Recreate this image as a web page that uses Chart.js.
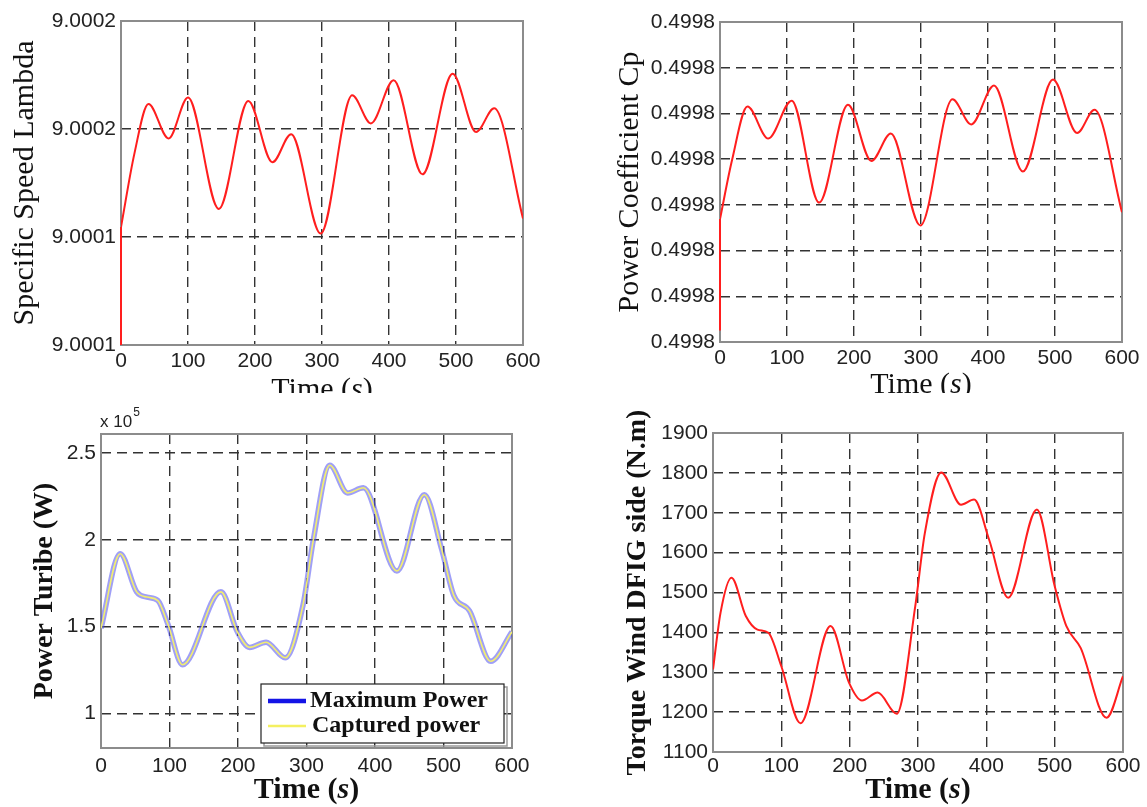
<!DOCTYPE html>
<html>
<head>
<meta charset="utf-8">
<title>Wind turbine simulation</title>
<script src="https://cdn.jsdelivr.net/npm/chart.js@4.4.1/dist/chart.umd.min.js"></script>
<style>
  html, body { margin: 0; padding: 0; background: #fff; }
  #page { position: relative; width: 1147px; height: 807px; overflow: hidden; }
  .panel { position: absolute; left: 0; top: 0; width: 1147px; overflow: hidden; }
  .panel canvas { position: absolute; left: 0; top: 0; }
</style>
</head>
<body>
<div id="page">
  <div class="panel" style="height:393px"><canvas id="lambdaChart" width="1147" height="807"></canvas></div>
  <div class="panel" style="height:393px"><canvas id="cpChart" width="1147" height="807"></canvas></div>
  <div class="panel" style="height:807px"><canvas id="powerChart" width="1147" height="807"></canvas></div>
  <div class="panel" style="height:807px"><canvas id="torqueChart" width="1147" height="807"></canvas></div>
</div>
<script>
// shared time axis
const timeTicks = [0, 100, 200, 300, 400, 500, 600];

// specific speed lambda (the run starts with a jump at t = 0)
const lambdaJump = [9.0001, 9.0001273];
const lambdaTime = [0, 20, 41, 71, 100, 146, 190, 226, 254, 298, 345, 373, 407, 450, 495, 530, 557, 600];
const lambdaValues = [9.0001273, 9.0001443, 9.0001558, 9.0001478, 9.0001573, 9.0001315, 9.0001565, 9.0001423,
    9.0001488, 9.0001258, 9.0001578, 9.0001513, 9.0001613, 9.0001395, 9.0001628, 9.0001493, 9.0001548, 9.0001293];
const lambdaTicks = [9.0001, 9.000125, 9.00015, 9.000175];
const lambdaTickLabels = ['9.0001', '9.0001', '9.0002', '9.0002'];

// power coefficient Cp
const cpJump = [0.49978125, 0.49979345];
const cpTime = [0, 18, 41, 72, 107, 148, 191, 226, 255, 299, 347, 375, 409, 452, 497, 533, 559, 600];
const cpValues = [0.49979345, 0.4997999, 0.49980575, 0.49980225, 0.4998064, 0.49979525, 0.49980595, 0.4997998,
    0.4998028, 0.49979275, 0.49980655, 0.4998038, 0.49980805, 0.49979865, 0.4998087, 0.49980285, 0.4998054, 0.4997942];
const cpTicks = [0.49978, 0.499785, 0.49979, 0.499795, 0.4998, 0.499805, 0.49981, 0.499815];
const cpTickLabels = ['0.4998', '0.4998', '0.4998', '0.4998', '0.4998', '0.4998', '0.4998', '0.4998'];

// turbine power (W)
const powerTime = [0, 28, 52, 67, 83, 98, 119, 175, 199, 217, 241, 269, 295, 310, 334, 360, 383, 432, 472, 497, 515, 538, 569, 600];
const maxPower = [149000, 192000, 170000, 167000, 165000, 151000, 128000, 170000, 147000, 138000, 141000, 132000,
    162500, 200000, 243000, 227000, 230000, 182000, 226000, 195000, 168000, 159000, 130000, 147000];
// captured power lies on top of the maximum power curve
const capturedPower = maxPower.slice();
const powerTicks = [100000, 150000, 200000, 250000];
const powerTickLabels = ['1', '1.5', '2', '2.5'];

// torque wind DFIG side (N.m)
const torqueTime = [0, 11, 27, 48, 65, 81, 100, 128, 172, 199, 218, 241, 269, 296, 310, 334, 363, 382, 404, 432, 474, 500, 517, 538, 576, 600];
const torqueValues = [1307, 1449, 1537, 1441, 1407, 1399, 1315, 1172, 1416, 1274, 1229, 1249, 1196, 1466, 1649, 1801,
    1720, 1733, 1633, 1487, 1708, 1516, 1416, 1361, 1186, 1290];
const torqueTicks = [1100, 1200, 1300, 1400, 1500, 1600, 1700, 1800, 1900];
const torqueTickLabels = ['1100', '1200', '1300', '1400', '1500', '1600', '1700', '1800', '1900'];

const SANS = '"Liberation Sans", Arial, Helvetica, sans-serif';
const SERIF = '"Liberation Serif", "Times New Roman", serif';
const GRID = '#333';
const W = 1147, H = 807, X_AXIS_H = 40;

function points(xs, ys) {
    return xs.map((x, i) => ({ x: x, y: ys[i] }));
}

function drawTimeTitle(ctx, cx, cy, weight, size) {
    const upright = weight + ' ' + size + 'px ' + SERIF;
    const italic = 'italic ' + upright;
    const parts = [['Time (', upright], ['s', italic], [')', upright]];
    let total = 0;
    parts.forEach(p => { ctx.font = p[1]; total += ctx.measureText(p[0]).width; });
    let x = cx - total / 2;
    ctx.fillStyle = '#111';
    ctx.textBaseline = 'middle';
    ctx.textAlign = 'left';
    parts.forEach(p => {
        ctx.font = p[1];
        ctx.fillText(p[0], x, cy);
        x += ctx.measureText(p[0]).width;
    });
}

function drawPowerLegend(ctx) {
    const L = 261, T = 684, R = 504, B = 743;
    ctx.strokeStyle = '#9a9a9a';
    ctx.lineWidth = 1.5;
    ctx.strokeRect(L + 3, T + 3, R - L, B - T);
    ctx.fillStyle = '#fff';
    ctx.fillRect(L, T, R - L, B - T);
    ctx.strokeStyle = '#222';
    ctx.lineWidth = 1.2;
    ctx.strokeRect(L, T, R - L, B - T);

    ctx.lineCap = 'butt';
    ctx.strokeStyle = '#1414e6';
    ctx.lineWidth = 4.5;
    ctx.beginPath(); ctx.moveTo(268, 701); ctx.lineTo(306, 701); ctx.stroke();
    ctx.strokeStyle = '#f4f060';
    ctx.lineWidth = 2.5;
    ctx.beginPath(); ctx.moveTo(268, 726); ctx.lineTo(306, 726); ctx.stroke();

    ctx.fillStyle = '#111';
    ctx.font = 'bold 24px ' + SERIF;
    ctx.textBaseline = 'middle';
    ctx.textAlign = 'left';
    ctx.fillText('Maximum Power', 310, 701);
    ctx.fillText('Captured power', 312, 726);
}

function drawExponent(ctx) {
    ctx.fillStyle = '#222';
    ctx.textBaseline = 'middle';
    ctx.textAlign = 'left';
    ctx.font = '17px ' + SANS;
    ctx.fillText('x 10', 100, 422);
    const w = ctx.measureText('x 10').width;
    ctx.font = '12px ' + SANS;
    ctx.fillText('5', 100 + w + 1, 413);
}

function framePlugin(cfg) {
    return {
        id: 'frame',
        beforeDatasetsDraw(chart) {
            const a = chart.chartArea, ctx = chart.ctx;
            ctx.save();
            ctx.strokeStyle = '#8c8c8c';
            ctx.lineWidth = 2;
            ctx.strokeRect(a.left, a.top, a.right - a.left, a.bottom - a.top);
            ctx.restore();
        },
        afterDraw(chart) {
            const a = chart.chartArea, ctx = chart.ctx;
            ctx.save();
            drawTimeTitle(ctx, (a.left + a.right) / 2, cfg.timeY, cfg.timeWeight, 30);
            if (cfg.extra) cfg.extra(ctx);
            ctx.restore();
        }
    };
}

function makeChart(id, cfg) {
    const a = cfg.area;
    return new Chart(document.getElementById(id), {
        type: 'line',
        data: { datasets: cfg.datasets },
        options: {
            responsive: false,
            animation: false,
            events: [],
            layout: {
                padding: { left: 0, top: a.top, right: W - a.right, bottom: H - a.bottom - X_AXIS_H }
            },
            plugins: {
                legend: { display: false },
                tooltip: { enabled: false }
            },
            elements: {
                point: { radius: 0 },
                line: { cubicInterpolationMode: 'monotone' }
            },
            scales: {
                x: {
                    type: 'linear',
                    min: 0,
                    max: 600,
                    afterBuildTicks: s => { s.ticks = timeTicks.map(v => ({ value: v })); },
                    afterFit: s => { s.height = X_AXIS_H; },
                    ticks: {
                        font: { family: SANS, size: 21 },
                        color: '#222',
                        padding: cfg.xTickPad,
                        maxRotation: 0,
                        autoSkip: false
                    },
                    grid: { color: GRID, lineWidth: 1.4, drawTicks: false },
                    border: { display: false, dash: [10, 6] }
                },
                y: {
                    type: 'linear',
                    min: cfg.yMin,
                    max: cfg.yMax,
                    afterBuildTicks: s => { s.ticks = cfg.yTicks.map(v => ({ value: v })); },
                    afterFit: s => { s.width = a.left; },
                    ticks: {
                        callback: (v, i) => cfg.yLabels[i],
                        font: { family: SANS, size: 21 },
                        color: '#222',
                        padding: 5,
                        autoSkip: false
                    },
                    grid: { color: GRID, lineWidth: 1.4, drawTicks: false },
                    border: { display: false, dash: [10, 6] },
                    title: {
                        display: true,
                        text: cfg.yTitle,
                        color: '#111',
                        font: { family: SERIF, size: cfg.yTitleSize, weight: cfg.yTitleWeight },
                        padding: { top: cfg.yTitleX - 0.6 * cfg.yTitleSize, bottom: 0 }
                    }
                }
            }
        },
        plugins: [framePlugin(cfg)]
    });
}

function redLine(xs, ys) {
    return {
        data: points(xs, ys),
        borderColor: '#ff1e1e',
        borderWidth: 2,
        pointRadius: 0,
        fill: false
    };
}

// straight vertical start segment, no spline
function jumpLine(ys) {
    const ds = redLine([0, 0], ys);
    ds.cubicInterpolationMode = 'default';
    ds.tension = 0;
    ds.clip = 4;
    return ds;
}

makeChart('lambdaChart', {
    area: { left: 121, top: 21, right: 523, bottom: 345 },
    datasets: [redLine(lambdaTime, lambdaValues), jumpLine(lambdaJump)],
    yTicks: lambdaTicks, yLabels: lambdaTickLabels, yMin: 9.0001, yMax: 9.000175,
    yTitle: 'Specific Speed Lambda', yTitleSize: 30, yTitleWeight: 'normal', yTitleX: 25,
    timeY: 390, timeWeight: 'normal', xTickPad: 4
});

makeChart('cpChart', {
    area: { left: 720, top: 22, right: 1122, bottom: 342 },
    datasets: [redLine(cpTime, cpValues), jumpLine(cpJump)],
    yTicks: cpTicks, yLabels: cpTickLabels, yMin: 0.49978, yMax: 0.499815,
    yTitle: 'Power Coefficient Cp', yTitleSize: 30, yTitleWeight: 'normal', yTitleX: 630,
    timeY: 385, timeWeight: 'normal', xTickPad: 4
});

makeChart('powerChart', {
    area: { left: 101, top: 434, right: 512, bottom: 748 },
    datasets: [
        {
            label: 'Maximum Power',
            data: points(powerTime, maxPower),
            borderColor: 'rgba(80, 80, 240, 0.55)',
            borderWidth: 5.5,
            pointRadius: 0,
            fill: false,
            order: 1
        },
        {
            label: 'Captured power',
            data: points(powerTime, capturedPower),
            borderColor: '#f2ee70',
            borderWidth: 1.6,
            pointRadius: 0,
            fill: false,
            order: 0
        }
    ],
    yTicks: powerTicks, yLabels: powerTickLabels, yMin: 80000, yMax: 261000,
    yTitle: 'Power Turibe (W)', yTitleSize: 28, yTitleWeight: 'bold', yTitleX: 45,
    timeY: 790, timeWeight: 'bold', xTickPad: 6,
    extra: ctx => { drawPowerLegend(ctx); drawExponent(ctx); }
});

makeChart('torqueChart', {
    area: { left: 713, top: 433, right: 1123, bottom: 752 },
    datasets: [redLine(torqueTime, torqueValues)],
    yTicks: torqueTicks, yLabels: torqueTickLabels, yMin: 1100, yMax: 1900,
    yTitle: 'Torque Wind DFIG side (N.m)', yTitleSize: 28, yTitleWeight: 'bold', yTitleX: 638,
    timeY: 790, timeWeight: 'bold', xTickPad: 2
});
</script>
</body>
</html>
